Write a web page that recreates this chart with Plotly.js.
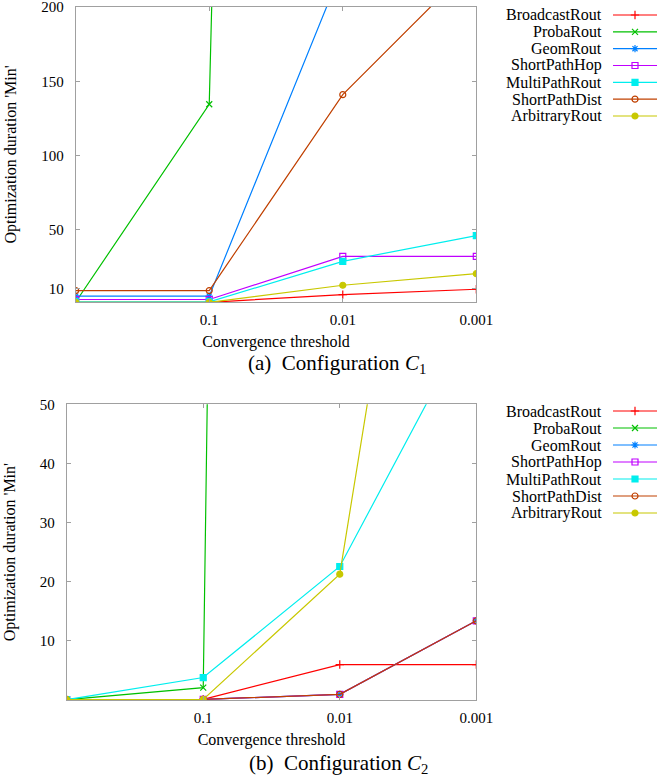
<!DOCTYPE html>
<html>
<head>
<meta charset="utf-8">
<script src="https://cdn.plot.ly/plotly-3.0.1.min.js"></script>
<style>html,body{margin:0;padding:0;background:#fff;}#chart{width:658px;height:778px;}</style>
</head>
<body>
<div id="chart"></div>
<script>
// Positions along the x axis (first point is the unlabeled origin)
const xIndex = [0, 1, 2, 3];
const xTickPositions = [1, 2, 3];
const xTickLabels = ['0.1', '0.01', '0.001'];

const seriesNames = ['BroadcastRout', 'ProbaRout', 'GeomRout', 'ShortPathHop', 'MultiPathRout', 'ShortPathDist', 'ArbitraryRout'];

// Configuration C1 (minutes)
const c1Broadcast = [1.0, 1.0, 6.2, 9.8];
const c1Proba     = [1.2, 134.5, 3700, null];
const c1Geom      = [5.1, 5.1, 227, null];
const c1ShortHop  = [2.9, 2.9, 31.9, 31.9];
const c1MultiPath = [1.3, 1.3, 28.6, 46];
const c1ShortDist = [8.9, 8.9, 141, 231];
const c1Arbitrary = [1.0, 1.0, 12.5, 20.3];

// Configuration C2 (minutes)
const c2Broadcast = [0.05, 0.1, 6.0, 6.0];
const c2Proba     = [0.05, 2.1, 1640, null];
const c2Geom      = [0.05, 0.1, 0.95, 13.4];
const c2ShortHop  = [0.05, 0.1, 0.95, 13.4];
const c2MultiPath = [0.05, 3.8, 22.6, 66];
const c2ShortDist = [0.05, 0.1, 0.95, 13.4];
const c2Arbitrary = [0.05, 0.1, 21.3, 164];

const c1Tickvals = [10, 50, 100, 150, 200];
const c2Tickvals = [10, 20, 30, 40, 50];

const colors  = ['#ff0000', '#00c000', '#0080ff', '#c000ff', '#00eeee', '#c04000', '#c8c800'];
const symbols = ['cross-thin-open', 'x-thin-open', 'asterisk-open', 'square-open', 'square', 'circle-open', 'circle'];

const c1 = [c1Broadcast, c1Proba, c1Geom, c1ShortHop, c1MultiPath, c1ShortDist, c1Arbitrary];
const c2 = [c2Broadcast, c2Proba, c2Geom, c2ShortHop, c2MultiPath, c2ShortDist, c2Arbitrary];

const FONT = 'Liberation Serif, Times New Roman, serif';
const AXC = '#a0a0a0';
const W = 658, H = 778;
const px = v => v / W;
const py = v => (H - v) / H;

function mk(i, xs, ys, xa, ya, extra) {
  return Object.assign({
    x: xs, y: ys, xaxis: xa, yaxis: ya,
    type: 'scatter', mode: 'lines+markers', name: seriesNames[i],
    line: {color: colors[i], width: 1.2},
    marker: {symbol: symbols[i], size: 6, color: colors[i], line: {color: colors[i], width: 1.2}},
    showlegend: false
  }, extra || {});
}

const traces = [];
c1.forEach((ys, i) => traces.push(mk(i, xIndex, ys, 'x', 'y')));
c2.forEach((ys, i) => traces.push(mk(i, xIndex, ys, 'x2', 'y2')));
// legend samples (key drawings)
seriesNames.forEach((n, i) => {
  traces.push(mk(i, [0, 0.5, 1], [i, i, i], 'x3', 'y3', {hoverinfo: 'skip', marker: {symbol: symbols[i], size: 6, color: colors[i], opacity: [0, 1, 0], line: {color: colors[i], width: 1.2}}}));
  traces.push(mk(i, [0, 0.5, 1], [i, i, i], 'x4', 'y4', {hoverinfo: 'skip', marker: {symbol: symbols[i], size: 6, color: colors[i], opacity: [0, 1, 0], line: {color: colors[i], width: 1.2}}}));
});

function xAxis(domain, anchor) {
  return {
    domain: domain, anchor: anchor, range: [0, 3], tickvals: xTickPositions, ticktext: xTickLabels,
    ticks: 'inside', ticklen: 4, tickcolor: AXC, tickwidth: 1,
    showline: true, linecolor: AXC, linewidth: 1, mirror: 'ticks',
    showgrid: false, zeroline: false, fixedrange: true, ticklabeloverflow: 'allow',
    tickfont: {family: FONT, size: 15, color: '#000'}, ticklabelstandoff: 4,
    title: {text: 'Convergence threshold', font: {family: FONT, size: 16, color: '#000'}, standoff: 8}
  };
}
function yAxis(domain, anchor, range, tv) {
  return {
    domain: domain, anchor: anchor, range: range, tickvals: tv,
    ticks: 'inside', ticklen: 4, tickcolor: AXC, tickwidth: 1,
    showline: true, linecolor: AXC, linewidth: 1, mirror: 'ticks',
    showgrid: false, zeroline: false, fixedrange: true, ticklabeloverflow: 'allow',
    tickfont: {family: FONT, size: 15, color: '#000'}, ticklabelstandoff: 8,
    title: {text: "Optimization duration 'Min'", font: {family: FONT, size: 16, color: '#000'}, standoff: 20}
  };
}
const hidden = (domain, anchor, range) => ({domain: domain, anchor: anchor, range: range, visible: false, fixedrange: true});

const annotations = [];
seriesNames.forEach((n, i) => {
  annotations.push({xref: 'paper', yref: 'y3', x: px(603.5), y: i, xanchor: 'right', yanchor: 'middle', showarrow: false, text: n, font: {family: FONT, size: 16, color: '#000'}});
  annotations.push({xref: 'paper', yref: 'y4', x: px(603.5), y: i, xanchor: 'right', yanchor: 'middle', showarrow: false, text: n, font: {family: FONT, size: 16, color: '#000'}});
});
annotations.push({xref: 'paper', yref: 'paper', x: px(337), y: py(363.5), xanchor: 'center', yanchor: 'middle', showarrow: false, text: '(a)  Configuration <i>C</i><sub>1</sub>', font: {family: FONT, size: 21, color: '#000'}});
annotations.push({xref: 'paper', yref: 'paper', x: px(338), y: py(763.5), xanchor: 'center', yanchor: 'middle', showarrow: false, text: '(b)  Configuration <i>C</i><sub>2</sub>', font: {family: FONT, size: 21, color: '#000'}});

const layout = {
  width: W, height: H, margin: {l: 0, r: 0, t: 0, b: 0},
  paper_bgcolor: '#fff', plot_bgcolor: '#fff', showlegend: false,
  font: {family: FONT, color: '#000'},
  xaxis: xAxis([px(75.7), px(476.3)], 'y'),
  yaxis: yAxis([py(302.3), py(6.7)], 'x', [1, 200.3], c1Tickvals),
  xaxis2: xAxis([px(66.7), px(476.3)], 'y2'),
  yaxis2: yAxis([py(700), py(404.3)], 'x2', [0, 50.05], c2Tickvals),
  xaxis3: hidden([px(613), px(657)], 'y3', [0, 1]),
  yaxis3: hidden([py(15 + 6.5 * 16.83), py(15 - 0.5 * 16.83)], 'x3', [6.5, -0.5]),
  xaxis4: hidden([px(613), px(657)], 'y4', [0, 1]),
  yaxis4: hidden([py(411 + 6.5 * 17), py(411 - 0.5 * 17)], 'x4', [6.5, -0.5]),
  annotations: annotations
};

Plotly.newPlot('chart', traces, layout, {displayModeBar: false, staticPlot: true});
</script>
</body>
</html>
